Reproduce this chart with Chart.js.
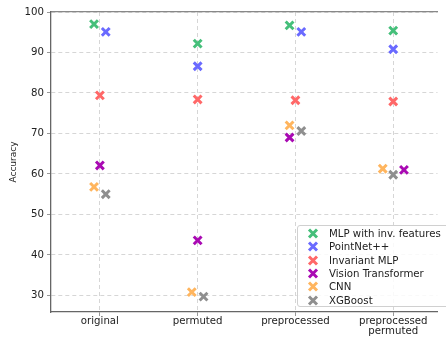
<!DOCTYPE html>
<html>
<head>
<meta charset="utf-8">
<script src="https://cdn.jsdelivr.net/npm/chart.js@4"></script>
<style>
  body { margin: 0; background: #fff; }
  #wrap { position: relative; width: 446px; height: 337px; overflow: hidden; }
  #leyenda {
    position: absolute; left: 297px; top: 225px; width: 170px; height: 80px;
    background: rgba(255,255,255,0.85); border: 1px solid #d0d0d0; border-radius: 3px;
    font-family: "DejaVu Sans", sans-serif; font-size: 10.2px; color: #222;
  }
  .fila { position: absolute; left: 0; height: 13px; line-height: 13px; white-space: nowrap; }
  .fila svg { position: absolute; left: 9px; top: 1px; }
  .fila span { position: absolute; left: 31px; }
</style>
</head>
<body>
<div id="wrap">
  <canvas id="grafico" width="446" height="337"></canvas>
  <div id="leyenda"></div>
</div>
<script>
// Categorías del eje X
const categorias = ['original', 'permuted', 'preprocessed', ['preprocessed', 'permuted']];
const ticksY = [30, 40, 50, 60, 70, 80, 90, 100];

// Series (precisión por categoría)
const modelos = ['MLP with inv. features', 'PointNet++', 'Invariant MLP', 'Vision Transformer', 'CNN', 'XGBoost'];
const mlpInv      = [97.0, 92.2, 96.7, 95.4];
const pointNet    = [95.1, 86.6, 95.1, 90.8];
const mlpInvar    = [79.4, 78.4, 78.2, 77.9];
const visionTrans = [62.1, 43.6, 69.0, 61.0];
const cnn         = [56.8, 30.8, 72.0, 61.3];
const xgboost     = [55.0, 29.7, 70.6, 59.8];

// Desplazamiento horizontal de cada punto dentro de su categoría
const desplMlpInv   = [-0.06, 0, -0.06, 0];
const desplPointNet = [0.06, 0, 0.06, 0];
const desplInvar    = [0, 0, 0, 0];
const desplVit      = [0, 0, -0.06, 0.11];
const desplCnn      = [-0.06, -0.06, -0.06, -0.107];
const desplXgb      = [0.06, 0.06, 0.06, 0];

const series = [mlpInv, pointNet, mlpInvar, visionTrans, cnn, xgboost];
const desplazamientos = [desplMlpInv, desplPointNet, desplInvar, desplVit, desplCnn, desplXgb];
const colores = ['#45bf7a', '#6a6aff', '#ff6868', '#a90ab3', '#ffb55e', '#8f8f8f'];

const fuente = { family: 'DejaVu Sans', size: 10.2 };
const rejilla = 'rgba(0,0,0,0.16)';

const datasets = series.map((valores, i) => ({
  label: modelos[i],
  data: valores.map((v, j) => ({ x: j + desplazamientos[i][j], y: v })),
  pointStyle: 'crossRot',
  pointRadius: 5.5,
  pointHoverRadius: 5.5,
  pointBorderWidth: 3,
  pointBorderColor: colores[i],
  pointBackgroundColor: colores[i],
  showLine: false,
  order: -i
}));

const ctx = document.getElementById('grafico').getContext('2d');
const chart = new Chart(ctx, {
  type: 'scatter',
  data: { datasets: datasets },
  options: {
    responsive: false,
    animation: false,
    layout: { padding: { top: 12, left: 0, right: 0, bottom: 0 } },
    plugins: { legend: { display: false }, tooltip: { enabled: false } },
    scales: {
      x: {
        type: 'linear', min: -0.5, max: 3.453,
        afterBuildTicks: s => { s.ticks = categorias.map((c, i) => ({ value: i })); },
        afterFit: s => { s.height = 25; },
        ticks: {
          callback: (v) => categorias[v],
          font: { family: 'DejaVu Sans', size: 10.2, lineHeight: 0.95 }, color: '#222', padding: 1, maxRotation: 0, autoSkip: false
        },
        grid: { color: rejilla, tickLength: 4, tickColor: '#999', tickBorderDash: [] },
        border: { color: '#666', width: 1.3, dash: [4, 3] }
      },
      arriba: {
        type: 'linear', position: 'top', min: -0.5, max: 3.453,
        afterFit: s => { s.height = 0; },
        ticks: { display: false },
        grid: { display: false },
        border: { display: true, color: '#888', width: 1.3 }
      },
      y: {
        min: 25.9, max: 100,
        afterBuildTicks: s => { s.ticks = ticksY.map(v => ({ value: v })); },
        afterFit: s => { s.width = 51; },
        ticks: { font: fuente, color: '#222', padding: 3 },
        grid: { color: rejilla, tickLength: 4, tickColor: '#999', tickBorderDash: [] },
        border: { color: '#666', width: 1.3, dash: [4, 3] },
        title: { display: true, text: 'Accuracy', font: { family: 'DejaVu Sans', size: 9 }, color: '#222', padding: { top: 8, bottom: 0 } }
      }
    }
  }
});

// Leyenda en HTML (esquina inferior derecha del área del gráfico)
const leyenda = document.getElementById('leyenda');
modelos.forEach((m, i) => {
  const fila = document.createElement('div');
  fila.className = 'fila';
  fila.style.top = (1 + i * 13.3) + 'px';
  fila.innerHTML = '<svg width="12" height="11" viewBox="0 0 12 11">' +
    '<path d="M2 1.5 L10 9.5 M10 1.5 L2 9.5" stroke="' + colores[i] + '" stroke-width="3"/></svg>' +
    '<span>' + m + '</span>';
  leyenda.appendChild(fila);
});
</script>
</body>
</html>
